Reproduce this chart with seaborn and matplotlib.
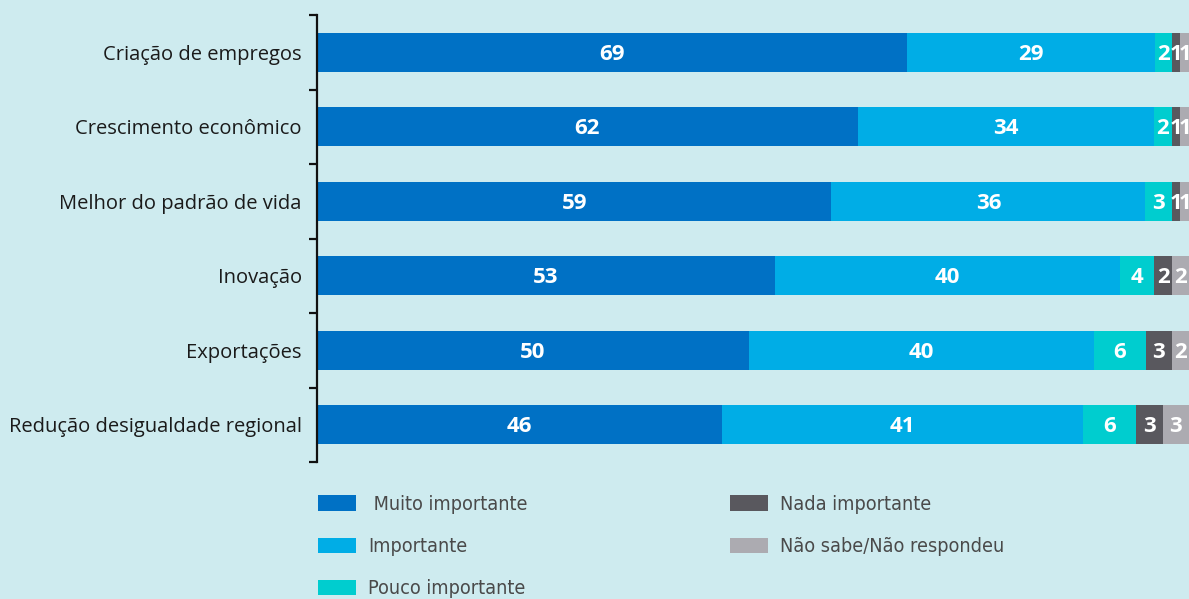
import numpy as np
import pandas as pd
import matplotlib
matplotlib.use("Agg")
import matplotlib.pyplot as plt
from matplotlib import font_manager
import seaborn as sns
from matplotlib.patches import Patch

categories = ["Criação de empregos", "Crescimento econômico", "Melhor do padrão de vida",
              "Inovação", "Exportações", "Redução desigualdade regional"]
series_names = [" Muito importante", "Importante", "Pouco importante",
                "Nada importante", "Não sabe/Não respondeu"]
muito = [69, 62, 59, 53, 50, 46]
importante = [29, 34, 36, 40, 40, 41]
pouco = [2, 2, 3, 4, 6, 6]
nada = [1, 1, 1, 2, 3, 3]
nao_sabe = [1, 1, 1, 2, 2, 3]
colors = ["#0071c5", "#00ade6", "#00cdcf", "#59585e", "#acabb1"]
bg = "#ceebef"

sns.set_theme(style="white")
plt.rcParams["font.family"] = ["Open Sans", "DejaVu Sans"]


def pick_narrow():
    for fam, stretch in [("Liberation Sans Narrow", "normal"),
                         ("DejaVu Sans", "condensed"),
                         ("Open Sans", "condensed")]:
        try:
            fp = font_manager.FontProperties(family=fam, stretch=stretch)
            path = font_manager.findfont(fp, fallback_to_default=False)
            name = path.lower()
            if "narrow" in name or "condensed" in name:
                return fam, stretch
        except Exception:
            pass
    return "Open Sans", "normal"


narrow_fam, narrow_stretch = pick_narrow()

vals = np.array([muito, importante, pouco, nada, nao_sabe], dtype=float)
tot = vals.sum(axis=0)
norm = vals / tot * 100
cum = norm.cumsum(axis=0)

fig = plt.figure(figsize=(11.89, 5.99), dpi=100, facecolor=bg)
ax = fig.add_axes([317 / 1189, (599 - 462) / 599, 1 - 317 / 1189, (462 - 15) / 599])
ax.set_facecolor(bg)

for i in range(4, -1, -1):
    df = pd.DataFrame({"cat": categories, "v": cum[i]})
    sns.barplot(data=df, x="v", y="cat", orient="h", color=colors[i],
                saturation=1, width=0.52, ax=ax, linewidth=0)

for i in range(5):
    for j in range(len(categories)):
        xc = cum[i, j] - norm[i, j] / 2
        ax.text(xc, j + 0.025, f"{int(vals[i, j])}", ha="center", va="center",
                color="white", fontsize=16, fontweight="bold",
                family=["Open Sans", "DejaVu Sans"])

ax.set_xlim(0, 100)
ax.set_ylim(len(categories) - 0.5, -0.5)
ax.set_xlabel("")
ax.set_ylabel("")
ax.set_xticks([])
for s in ["top", "right", "bottom"]:
    ax.spines[s].set_visible(False)
ax.spines["left"].set_color("#111111")
ax.spines["left"].set_linewidth(1.6)
ax.tick_params(axis="y", which="major", left=False, length=0, pad=11,
               labelsize=14.5, labelcolor="#1a1a1a")
ax.set_yticks(np.arange(-0.5, len(categories)), minor=True)
ax.tick_params(axis="y", which="minor", left=True, length=6, width=1.6,
               color="#111111", direction="out")

leg_font = font_manager.FontProperties(family=narrow_fam, stretch=narrow_stretch, size=14.2)
h1 = [Patch(facecolor=colors[k], edgecolor="none") for k in range(3)]
h2 = [Patch(facecolor=colors[k], edgecolor="none") for k in range(3, 5)]
common = dict(frameon=False, handlelength=1.95, handleheight=0.82, handletextpad=0.6,
              labelspacing=1.17, prop=leg_font, labelcolor="#4a4a4a", borderaxespad=0,
              borderpad=0, loc="upper left")
fig.legend(h1, series_names[:3], bbox_to_anchor=(318 / 1189, 1 - 495 / 599), **common)
fig.legend(h2, series_names[3:], bbox_to_anchor=(730 / 1189, 1 - 495 / 599), **common)

fig.savefig("out.png", dpi=100, facecolor=bg)
